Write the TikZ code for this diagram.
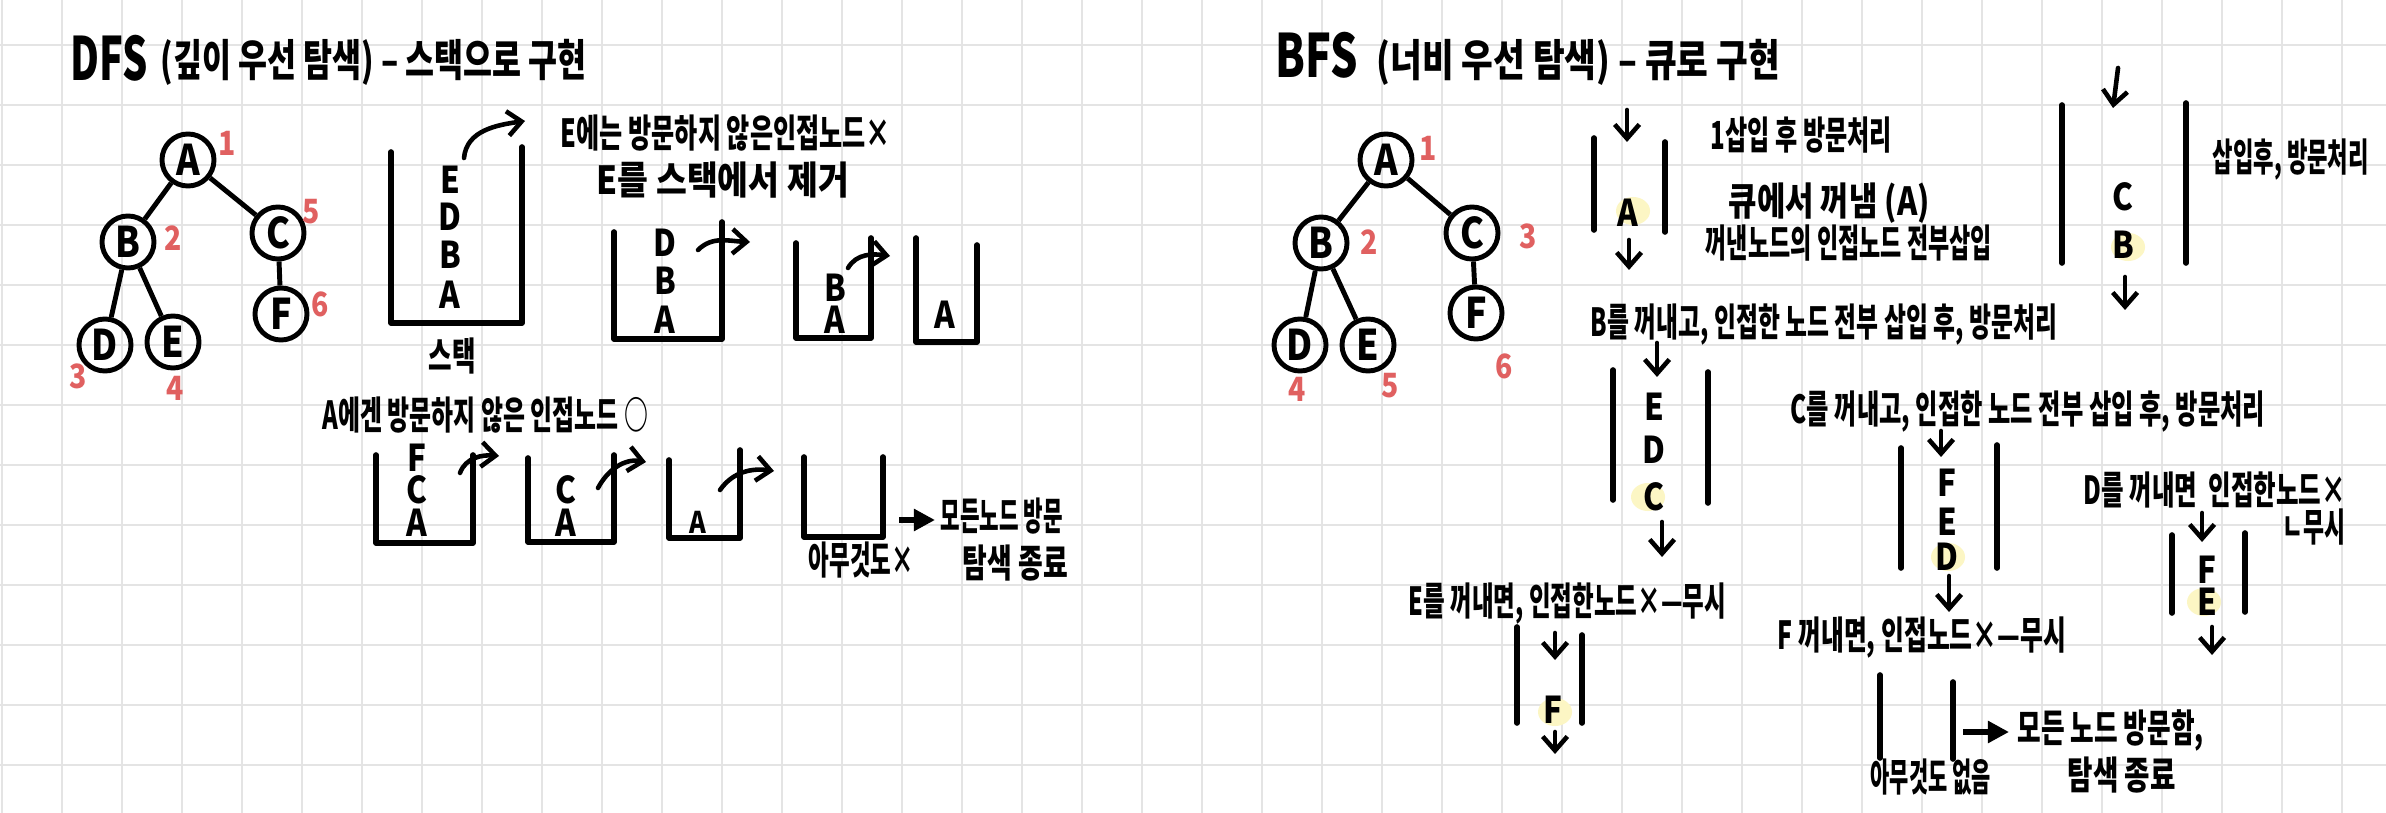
\documentclass[tikz,border=0pt]{standalone}
\usepackage{fontspec}
\usepackage{graphicx}
\newfontfamily\hand[FakeStretch=0.64]{Noto Sans CJK KR}
\newfontfamily\handT[FakeStretch=0.72]{Noto Sans CJK KR}
\newfontfamily\handL[FakeStretch=0.85]{Noto Sans CJK KR}
\newcommand{\fw}[2]{\resizebox{#1}{\height}{#2}}
\usetikzlibrary{arrows.meta}
\definecolor{gridc}{RGB}{228,228,228}
\definecolor{numred}{RGB}{224,96,96}
\definecolor{hlc}{RGB}{252,246,196}
\begin{document}
\begin{tikzpicture}[x=0.01cm,y=-0.01cm,
 txt/.style={anchor=west,inner sep=0pt,font=\hand\bfseries\fontsize{11}{13}\selectfont},
 ttl/.style={anchor=west,inner sep=0pt,font=\handT\bfseries\fontsize{12.5}{14}\selectfont},
 big/.style={anchor=west,inner sep=0pt,font=\handT\bfseries\fontsize{17}{20}\selectfont},
 ltr/.style={inner sep=0pt,font=\handL\bfseries\fontsize{10.5}{12}\selectfont},
 tnode/.style={draw,circle,line width=1.4pt,minimum size=0.52cm,inner sep=0pt,font=\handL\bfseries\fontsize{12}{14}\selectfont},
 num/.style={inner sep=0pt,text=numred,font=\handL\bfseries\fontsize{9.5}{11}\selectfont},
 tedge/.style={line width=1.4pt},
 wall/.style={line width=1.6pt,line cap=round,line join=round},
 arr/.style={line width=1.3pt,line cap=round,-{Straight Barb[length=4pt,width=7pt]}},
 farr/.style={line width=1.5pt,-{Triangle[length=6pt,width=6pt]}},
 hl/.style={fill=hlc}
]
\useasboundingbox (0,0) rectangle (2386,813);
\fill[white] (0,0) rectangle (2386,813);
\foreach \i in {0,...,39} \draw[gridc,line width=0.8pt] ({2+60*\i},0) -- ({2+60*\i},813);
\foreach \j in {0,...,12} \draw[gridc,line width=0.8pt] (0,{45+60*\j}) -- (2386,{45+60*\j});

% ================= DFS =================
\node[big] (dfsT) at (70,58) {\fw{0.77cm}{DFS}};
\node[ttl] (dfsS) at (160,62) {\fw{4.26cm}{(깊이 우선 탐색) – 스택으로 구현}};

\node[tnode] (dA) at (188,160) {A};
\node[tnode] (dB) at (128,242) {B};
\node[tnode] (dC) at (278,233) {C};
\node[tnode] (dF) at (281,314) {F};
\node[tnode] (dD) at (105,345) {D};
\node[tnode] (dE) at (173,342) {E};
\draw[tedge] (dA) -- (dB);
\draw[tedge] (dA) -- (dC);
\draw[tedge] (dB) -- (dD);
\draw[tedge] (dB) -- (dE);
\draw[tedge] (dC) -- (dF);
\node[num] (dn1) at (227,143) {1};
\node[num] (dn2) at (173,238) {2};
\node[num] (dn5) at (311,212) {5};
\node[num] (dn6) at (320,304) {6};
\node[num] (dn3) at (78,376) {3};
\node[num] (dn4) at (175,388) {4};

% stack 1
\draw[wall] (391,152) -- (391,323) -- (522,323) -- (522,147);
\node[ltr] (s1E) at (450,180) {E};
\node[ltr] (s1D) at (450,217) {D};
\node[ltr] (s1B) at (450,255) {B};
\node[ltr] (s1A) at (450,295) {A};
\coordinate (s1a) at (464,158);
\coordinate (s1b) at (525,121);
\draw[arr] (s1a) to[out=85,in=188] (s1b);
\node[txt] (stk) at (428,356) {\fw{0.47cm}{스택}};

\node[txt] (t1) at (560,133) {\fw{3.3cm}{E에는 방문하지 않은인접노드×}};
\node[txt] (t2) at (596,180) {\fw{2.52cm}{E를 스택에서 제거}};

% stack 2
\draw[wall] (614,232) -- (614,339) -- (722,339) -- (722,222);
\node[ltr] (s2D) at (665,243) {D};
\node[ltr] (s2B) at (665,281) {B};
\node[ltr] (s2A) at (665,320) {A};
\coordinate (s2a) at (698,250);
\coordinate (s2b) at (750,242);
\draw[arr] (s2a) to[out=45,in=178] (s2b);

% stack 3
\draw[wall] (796,243) -- (796,338) -- (871,338) -- (871,238);
\node[ltr] (s3B) at (835,288) {B};
\node[ltr] (s3A) at (835,320) {A};
\coordinate (s3a) at (848,268);
\coordinate (s3b) at (890,256);
\draw[arr] (s3a) to[out=60,in=172] (s3b);

% stack 4
\draw[wall] (916,238) -- (916,342) -- (977,342) -- (977,245);
\node[ltr] (s4A) at (945,315) {A};

\node[txt] (t3) at (322,415) {\fw{3.25cm}{A에겐 방문하지 않은 인접노드 ○}};

% stack 5
\draw[wall] (376,455) -- (376,543) -- (473,543) -- (473,455);
\node[ltr] (s5F) at (417,458) {F};
\node[ltr] (s5C) at (417,490) {C};
\node[ltr] (s5A) at (417,523) {A};
\coordinate (s5a) at (460,473);
\coordinate (s5b) at (499,456);
\draw[arr] (s5a) to[out=70,in=175] (s5b);

% stack 6
\draw[wall] (528,458) -- (528,542) -- (614,542) -- (614,455);
\node[ltr] (s6C) at (566,490) {C};
\node[ltr] (s6A) at (566,523) {A};
\coordinate (s6a) at (598,488);
\coordinate (s6b) at (646,462);
\draw[arr] (s6a) to[out=62,in=170] (s6b);

% stack 7
\draw[wall] (669,460) -- (669,538) -- (740,538) -- (740,450);
\node[ltr,font=\handL\bfseries\fontsize{8.5}{10}\selectfont] (s7A) at (698,522) {A};
\coordinate (s7a) at (720,490);
\coordinate (s7b) at (774,471);
\draw[arr] (s7a) to[out=55,in=172] (s7b);

% stack 8
\draw[wall] (804,457) -- (804,537) -- (883,537) -- (883,457);
\coordinate (s8a) at (899,520);
\coordinate (s8b) at (935,520);
\draw[farr] (s8a) -- (s8b);
\node[txt] (t4) at (940,516) {\fw{1.22cm}{모든노드 방문}};
\node[txt] (t5) at (962,563) {\fw{1.05cm}{탐색 종료}};
\node[txt] (t6) at (808,560) {\fw{1.05cm}{아무것도×}};

% ================= BFS =================
\node[big] (bfsT) at (1275,55) {\fw{0.82cm}{BFS}};
\node[ttl] (bfsS) at (1376,62) {\fw{4.03cm}{(너비 우선 탐색) – 큐로 구현}};

\node[tnode] (bA) at (1386,160) {A};
\node[tnode] (bB) at (1321,243) {B};
\node[tnode] (bC) at (1472,233) {C};
\node[tnode] (bF) at (1476,313) {F};
\node[tnode] (bD) at (1300,345) {D};
\node[tnode] (bE) at (1368,345) {E};
\draw[tedge] (bA) -- (bB);
\draw[tedge] (bA) -- (bC);
\draw[tedge] (bB) -- (bD);
\draw[tedge] (bB) -- (bE);
\draw[tedge] (bC) -- (bF);
\node[num] (bn1) at (1428,148) {1};
\node[num] (bn2) at (1369,242) {2};
\node[num] (bn3) at (1528,236) {3};
\node[num] (bn6) at (1504,366) {6};
\node[num] (bn4) at (1297,389) {4};
\node[num] (bn5) at (1390,386) {5};

% highlights
\fill[hl] (1633,211) ellipse[x radius=0.17cm,y radius=0.14cm];
\fill[hl] (2128,247) ellipse[x radius=0.17cm,y radius=0.14cm];
\fill[hl] (1648,497) ellipse[x radius=0.17cm,y radius=0.14cm];
\fill[hl] (1948,557) ellipse[x radius=0.17cm,y radius=0.14cm];
\fill[hl] (2204,602) ellipse[x radius=0.17cm,y radius=0.14cm];
\fill[hl] (1555,712) ellipse[x radius=0.17cm,y radius=0.14cm];

% queue 1
\draw[wall] (1594,138) -- (1594,230);
\draw[wall] (1665,142) -- (1665,232);
\coordinate (q1ia) at (1627,110);
\coordinate (q1ib) at (1627,142);
\draw[arr] (q1ia) -- (q1ib);
\node[ltr] (q1A) at (1628,213) {A};
\coordinate (q1oa) at (1629,240);
\coordinate (q1ob) at (1629,270);
\draw[arr] (q1oa) -- (q1ob);
\node[txt] (t7) at (1710,135) {\fw{1.81cm}{1삽입 후 방문처리}};
\node[txt] (t8) at (1728,203) {\fw{2.01cm}{큐에서 꺼냄 (A)}};
\node[txt] (t9) at (1705,243) {\fw{2.86cm}{꺼낸노드의 인접노드 전부삽입}};

% queue 2
\draw[wall] (2062,105) -- (2062,263);
\draw[wall] (2186,103) -- (2186,263);
\coordinate (q2ia) at (2118,68);
\coordinate (q2ib) at (2113,108);
\draw[arr] (q2ia) -- (q2ib);
\node[ltr] (q2C) at (2123,197) {C};
\node[ltr] (q2B) at (2123,245) {B};
\coordinate (q2oa) at (2125,277);
\coordinate (q2ob) at (2125,310);
\draw[arr] (q2oa) -- (q2ob);
\node[txt] (t10) at (2212,160) {\fw{1.56cm}{삽입후, 방문처리}};

\node[txt] (t11) at (1590,325) {\fw{4.66cm}{B를 꺼내고, 인접한 노드 전부 삽입 후, 방문처리}};

% queue 3
\coordinate (q3ia) at (1657,343);
\coordinate (q3ib) at (1657,377);
\draw[arr] (q3ia) -- (q3ib);
\draw[wall] (1613,370) -- (1613,500);
\draw[wall] (1708,372) -- (1708,503);
\node[ltr] (q3E) at (1654,407) {E};
\node[ltr] (q3D) at (1654,450) {D};
\node[ltr] (q3C) at (1654,497) {C};
\coordinate (q3oa) at (1662,522);
\coordinate (q3ob) at (1662,557);
\draw[arr] (q3oa) -- (q3ob);

\node[txt] (t12) at (1408,604) {\fw{3.17cm}{E를 꺼내면, 인접한노드×—무시}};

% queue 4
\draw[wall] (1517,627) -- (1517,723);
\draw[wall] (1582,635) -- (1582,723);
\coordinate (q4ia) at (1555,633);
\coordinate (q4ib) at (1555,660);
\draw[arr] (q4ia) -- (q4ib);
\node[ltr] (q4F) at (1553,710) {F};
\coordinate (q4oa) at (1555,732);
\coordinate (q4ob) at (1555,754);
\draw[arr] (q4oa) -- (q4ob);

\node[txt] (t13) at (1790,412) {\fw{4.74cm}{C를 꺼내고, 인접한 노드 전부 삽입 후, 방문처리}};

% queue 5
\draw[wall] (1901,448) -- (1901,568);
\draw[wall] (1997,445) -- (1997,568);
\coordinate (q5ia) at (1941,431);
\coordinate (q5ib) at (1941,457);
\draw[arr] (q5ia) -- (q5ib);
\node[ltr] (q5F) at (1947,483) {F};
\node[ltr] (q5E) at (1947,522) {E};
\node[ltr] (q5D) at (1947,557) {D};
\coordinate (q5oa) at (1949,576);
\coordinate (q5ob) at (1949,612);
\draw[arr] (q5oa) -- (q5ob);

\node[txt] (t14) at (2083,490) {\fw{2.62cm}{D를 꺼내면 \ 인접한노드×}};
\node[txt] (t15) at (2282,527) {\fw{0.63cm}{ㄴ무시}};

% queue 6
\draw[wall] (2172,535) -- (2172,613);
\draw[wall] (2245,533) -- (2245,612);
\coordinate (q6ia) at (2202,513);
\coordinate (q6ib) at (2202,542);
\draw[arr] (q6ia) -- (q6ib);
\node[ltr] (q6F) at (2207,570) {F};
\node[ltr] (q6E) at (2207,602) {E};
\coordinate (q6oa) at (2212,627);
\coordinate (q6ob) at (2212,655);
\draw[arr] (q6oa) -- (q6ob);

\node[txt] (t16) at (1777,638) {\fw{2.88cm}{F 꺼내면, 인접노드×—무시}};

% queue 7
\draw[wall] (1880,675) -- (1880,758);
\draw[wall] (1953,682) -- (1953,759);
\coordinate (q7a) at (1963,732);
\coordinate (q7b) at (2009,732);
\draw[farr] (q7a) -- (q7b);
\node[txt] (t17) at (2017,730) {\fw{1.86cm}{모든 노드 방문함,}};
\node[txt] (t18) at (2067,775) {\fw{1.08cm}{탐색 종료}};
\node[txt] (t19) at (1870,777) {\fw{1.2cm}{아무것도 없음}};
\end{tikzpicture}
\end{document}
